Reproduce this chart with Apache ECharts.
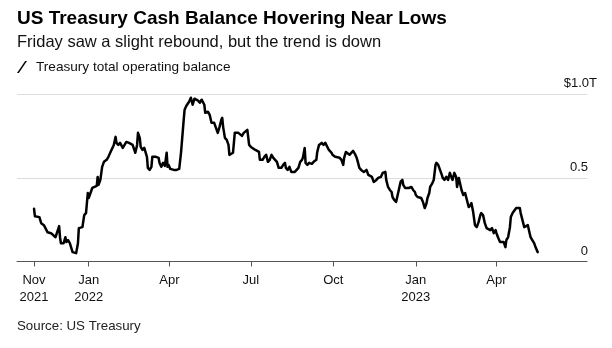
<!DOCTYPE html>
<html>
<head>
<meta charset="utf-8">
<script src="https://cdn.jsdelivr.net/npm/echarts@6/dist/echarts.min.js"></script>
<style>
html,body{margin:0;padding:0;background:#fff;}
#chart{width:612px;height:348px;}
</style>
</head>
<body>
<div id="chart"></div>
<script>
// ---- Data (US Treasury total operating balance, $ trillions) ----
const dates = [
'2021-11-01','2021-11-02','2021-11-04','2021-11-07','2021-11-09','2021-11-12','2021-11-16','2021-11-20','2021-11-22','2021-11-25','2021-11-27','2021-11-29','2021-11-30',
'2021-12-01','2021-12-04','2021-12-06','2021-12-07','2021-12-09','2021-12-11','2021-12-12','2021-12-14','2021-12-15','2021-12-18','2021-12-20','2021-12-21','2021-12-23','2021-12-25','2021-12-27','2021-12-29','2021-12-31',
'2022-01-01','2022-01-03','2022-01-05','2022-01-07','2022-01-10','2022-01-11','2022-01-12','2022-01-14','2022-01-16','2022-01-18','2022-01-21','2022-01-23','2022-01-25','2022-01-27','2022-01-29','2022-01-31',
'2022-02-01','2022-02-03','2022-02-05','2022-02-06','2022-02-08','2022-02-10','2022-02-12','2022-02-15','2022-02-17','2022-02-19','2022-02-21','2022-02-22','2022-02-24','2022-02-25','2022-02-27','2022-02-28',
'2022-03-02','2022-03-04','2022-03-05','2022-03-07','2022-03-08','2022-03-10','2022-03-12','2022-03-13','2022-03-15','2022-03-17','2022-03-20','2022-03-21','2022-03-23','2022-03-25','2022-03-27','2022-03-29','2022-03-30','2022-03-31',
'2022-04-02','2022-04-04','2022-04-06','2022-04-09','2022-04-11','2022-04-12','2022-04-14','2022-04-17','2022-04-18','2022-04-20','2022-04-23','2022-04-25','2022-04-27','2022-04-29',
'2022-05-01','2022-05-03','2022-05-05','2022-05-07','2022-05-10','2022-05-11','2022-05-14','2022-05-16','2022-05-18','2022-05-19','2022-05-21','2022-05-23','2022-05-25','2022-05-27','2022-05-29','2022-05-30','2022-05-31',
'2022-06-02','2022-06-04','2022-06-06','2022-06-07','2022-06-09','2022-06-11','2022-06-13','2022-06-15','2022-06-17','2022-06-19','2022-06-21','2022-06-23','2022-06-25','2022-06-27','2022-06-29',
'2022-07-01','2022-07-03','2022-07-06','2022-07-08','2022-07-10','2022-07-11','2022-07-14','2022-07-16','2022-07-18','2022-07-20','2022-07-22','2022-07-24','2022-07-26','2022-07-28','2022-07-30',
'2022-08-01','2022-08-02','2022-08-04','2022-08-06','2022-08-08','2022-08-09','2022-08-11','2022-08-13','2022-08-15','2022-08-17','2022-08-19','2022-08-21','2022-08-23','2022-08-25','2022-08-27','2022-08-28','2022-08-30','2022-08-31',
'2022-09-02','2022-09-04','2022-09-07','2022-09-09','2022-09-12','2022-09-13','2022-09-15','2022-09-18','2022-09-20','2022-09-22','2022-09-24','2022-09-26','2022-09-29','2022-09-30',
'2022-10-03','2022-10-05','2022-10-08','2022-10-10','2022-10-12','2022-10-13','2022-10-15','2022-10-17','2022-10-19','2022-10-21','2022-10-23','2022-10-25','2022-10-27','2022-10-28','2022-10-30',
'2022-11-01','2022-11-04','2022-11-07','2022-11-09','2022-11-11','2022-11-13','2022-11-15','2022-11-18','2022-11-20','2022-11-22','2022-11-23','2022-11-25','2022-11-28','2022-11-29',
'2022-12-01','2022-12-03','2022-12-05','2022-12-06','2022-12-08','2022-12-10','2022-12-12','2022-12-13','2022-12-15','2022-12-17','2022-12-18','2022-12-20','2022-12-22','2022-12-24','2022-12-27','2022-12-29','2022-12-31',
'2023-01-01','2023-01-03','2023-01-05','2023-01-07','2023-01-09','2023-01-11','2023-01-13','2023-01-14','2023-01-16','2023-01-17','2023-01-19','2023-01-21','2023-01-23','2023-01-24','2023-01-26','2023-01-28','2023-01-30','2023-01-31',
'2023-02-02','2023-02-04','2023-02-06','2023-02-08','2023-02-10','2023-02-11','2023-02-13','2023-02-15','2023-02-16','2023-02-18','2023-02-20','2023-02-21','2023-02-23','2023-02-25','2023-02-27',
'2023-03-01','2023-03-03','2023-03-04','2023-03-06','2023-03-08','2023-03-10','2023-03-12','2023-03-14','2023-03-15','2023-03-17','2023-03-19','2023-03-21','2023-03-23','2023-03-25','2023-03-27','2023-03-29','2023-03-31',
'2023-04-01','2023-04-03','2023-04-05','2023-04-07','2023-04-09','2023-04-11','2023-04-12','2023-04-14','2023-04-16','2023-04-17','2023-04-19','2023-04-21','2023-04-23','2023-04-25','2023-04-27','2023-04-28','2023-04-30',
'2023-05-02','2023-05-04','2023-05-06','2023-05-08','2023-05-09','2023-05-11','2023-05-13','2023-05-15','2023-05-17'
];
const balance = [
0.315,0.270,0.277,0.265,0.229,0.217,0.175,0.169,0.163,0.145,0.139,0.211,0.145,
0.109,0.109,0.145,0.116,0.128,0.109,0.116,0.056,0.050,0.050,0.109,0.199,0.193,0.205,0.277,0.289,0.409,
0.379,0.409,0.439,0.445,0.451,0.505,0.457,0.487,0.565,0.595,0.607,0.625,0.649,0.649,0.696,0.744,
0.708,0.696,0.708,0.714,0.678,0.696,0.714,0.708,0.708,0.696,0.696,0.649,0.696,0.768,0.738,0.684,
0.666,0.678,0.660,0.625,0.559,0.547,0.565,0.625,0.625,0.625,0.619,0.589,0.565,0.589,0.571,0.649,0.565,0.577,
0.553,0.559,0.547,0.547,0.553,0.553,0.649,0.846,0.906,0.930,0.954,0.978,0.936,0.972,
0.978,0.960,0.948,0.966,0.936,0.888,0.894,0.876,0.828,0.834,0.828,0.834,0.768,0.804,0.846,0.858,0.804,
0.738,0.726,0.696,0.636,0.625,0.649,0.768,0.774,0.768,0.768,0.750,0.768,0.762,0.786,0.696,
0.684,0.684,0.666,0.666,0.654,0.607,0.607,0.625,0.637,0.595,0.607,0.637,0.619,0.607,0.595,
0.559,0.565,0.559,0.577,0.589,0.559,0.547,0.565,0.535,0.529,0.535,0.535,0.559,0.595,0.607,0.619,0.678,0.589,
0.577,0.589,0.583,0.595,0.607,0.654,0.696,0.708,0.696,0.708,0.708,0.666,0.649,0.637,
0.625,0.619,0.619,0.607,0.577,0.619,0.654,0.654,0.637,0.643,0.660,0.643,0.619,0.601,0.559,
0.547,0.535,0.547,0.517,0.517,0.505,0.475,0.487,0.499,0.505,0.505,0.529,0.535,0.487,
0.445,0.427,0.415,0.385,0.367,0.355,0.349,0.427,0.475,0.487,0.457,0.439,0.439,0.439,0.445,0.427,0.415,
0.397,0.385,0.385,0.379,0.355,0.319,0.349,0.379,0.409,0.445,0.463,0.487,0.577,0.589,0.577,0.577,0.517,0.499,
0.487,0.505,0.487,0.529,0.499,0.487,0.529,0.505,0.445,0.499,0.505,0.427,0.397,0.409,0.367,
0.325,0.337,0.349,0.295,0.217,0.205,0.235,0.277,0.289,0.277,0.229,0.199,0.205,0.187,0.199,0.169,0.187,
0.169,0.140,0.116,0.110,0.116,0.086,0.128,0.146,0.205,0.265,0.289,0.295,0.319,0.319,0.319,0.289,0.247,
0.205,0.205,0.217,0.169,0.146,0.128,0.110,0.080,0.056
];
const tickDates = ['2021-11-01','2022-01-01','2022-04-01','2022-07-01','2022-10-01','2023-01-01','2023-04-01'];
const tickLabels = ['Nov\n2021','Jan\n2022','Apr','Jul','Oct','Jan\n2023','Apr'];
const yTicks = [0, 0.5, 1.0];
const yTickLabels = ['0', '0.5', '$1.0'];

const FONT = '"Liberation Sans", Arial, Helvetica, sans-serif';
const toTs = s => new Date(s + 'T00:00:00Z').getTime();
const tickTs = tickDates.map(toTs);
const seriesData = dates.map((d, i) => [toTs(d), balance[i]]);

const chart = echarts.init(document.getElementById('chart'), null, {renderer: 'canvas'});
chart.setOption({
  animation: false,
  backgroundColor: '#fff',
  textStyle: {fontFamily: FONT},
  title: [
    {text: 'US Treasury Cash Balance Hovering Near Lows', left: 17, top: 9, padding: 0,
     textStyle: {fontFamily: FONT, fontSize: 19, fontWeight: 'bold', color: '#000'}},
    {text: 'Friday saw a slight rebound, but the trend is down', left: 17, top: 34, padding: 0,
     textStyle: {fontFamily: FONT, fontSize: 16.5, fontWeight: 'normal', color: '#111'}},
    {text: 'Source: US Treasury', left: 17, top: 320, padding: 0,
     textStyle: {fontFamily: FONT, fontSize: 13.3, fontWeight: 'normal', color: '#222'}}
  ],
  legend: {
    left: 17, top: 60, padding: 0, itemWidth: 10, itemHeight: 12,
    icon: 'path://M0,12 L1.8,12 L10,0 L8.2,0 Z',
    textStyle: {fontFamily: FONT, fontSize: 13.6, color: '#111', padding: [0, 0, 0, 4]},
    data: [{name: 'Treasury total operating balance', itemStyle: {color: '#000'}}]
  },
  grid: {left: 17, right: 25, top: 94, bottom: 86.5, containLabel: false},
  xAxis: {
    type: 'value',
    min: toTs('2021-10-13'),
    max: toTs('2023-07-11'),
    axisLine: {show: true, onZero: false, lineStyle: {color: '#555', width: 1}},
    axisTick: {show: true, length: 5, lineStyle: {color: '#555'}, customValues: tickTs},
    axisLabel: {
      customValues: tickTs,
      margin: 10,
      fontFamily: FONT, fontSize: 13, lineHeight: 17, color: '#111',
      formatter: v => { const i = tickTs.indexOf(v); return i >= 0 ? tickLabels[i] : ''; }
    },
    splitLine: {show: false}
  },
  yAxis: {
    type: 'value', position: 'right', min: 0, max: 1.0, interval: 0.5,
    axisLine: {show: false}, axisTick: {show: false},
    splitLine: {show: true, lineStyle: {color: '#dcdcdc', width: 1}},
    axisLabel: {
      inside: true, margin: -10, align: 'right', verticalAlign: 'bottom',
      padding: [0, 0, 4, 0],
      fontFamily: FONT, fontSize: 13, color: '#111',
      formatter: v => {
        const i = yTicks.findIndex(t => Math.abs(t - v) < 1e-9);
        const lab = i >= 0 ? yTickLabels[i] : '';
        return v === 1 ? '{n|' + lab + '}{n|T}' : '{n|' + lab + '}{s| }';
      },
      rich: {
        n: {fontFamily: FONT, fontSize: 13, color: '#111'},
        s: {fontFamily: FONT, fontSize: 13, width: 9}
      }
    }
  },
  series: [{
    name: 'Treasury total operating balance',
    type: 'line',
    data: seriesData,
    showSymbol: false,
    symbol: 'none',
    lineStyle: {color: '#000', width: 2.5, join: 'round', cap: 'round'},
    itemStyle: {color: '#000'}
  }]
});
</script>
</body>
</html>
